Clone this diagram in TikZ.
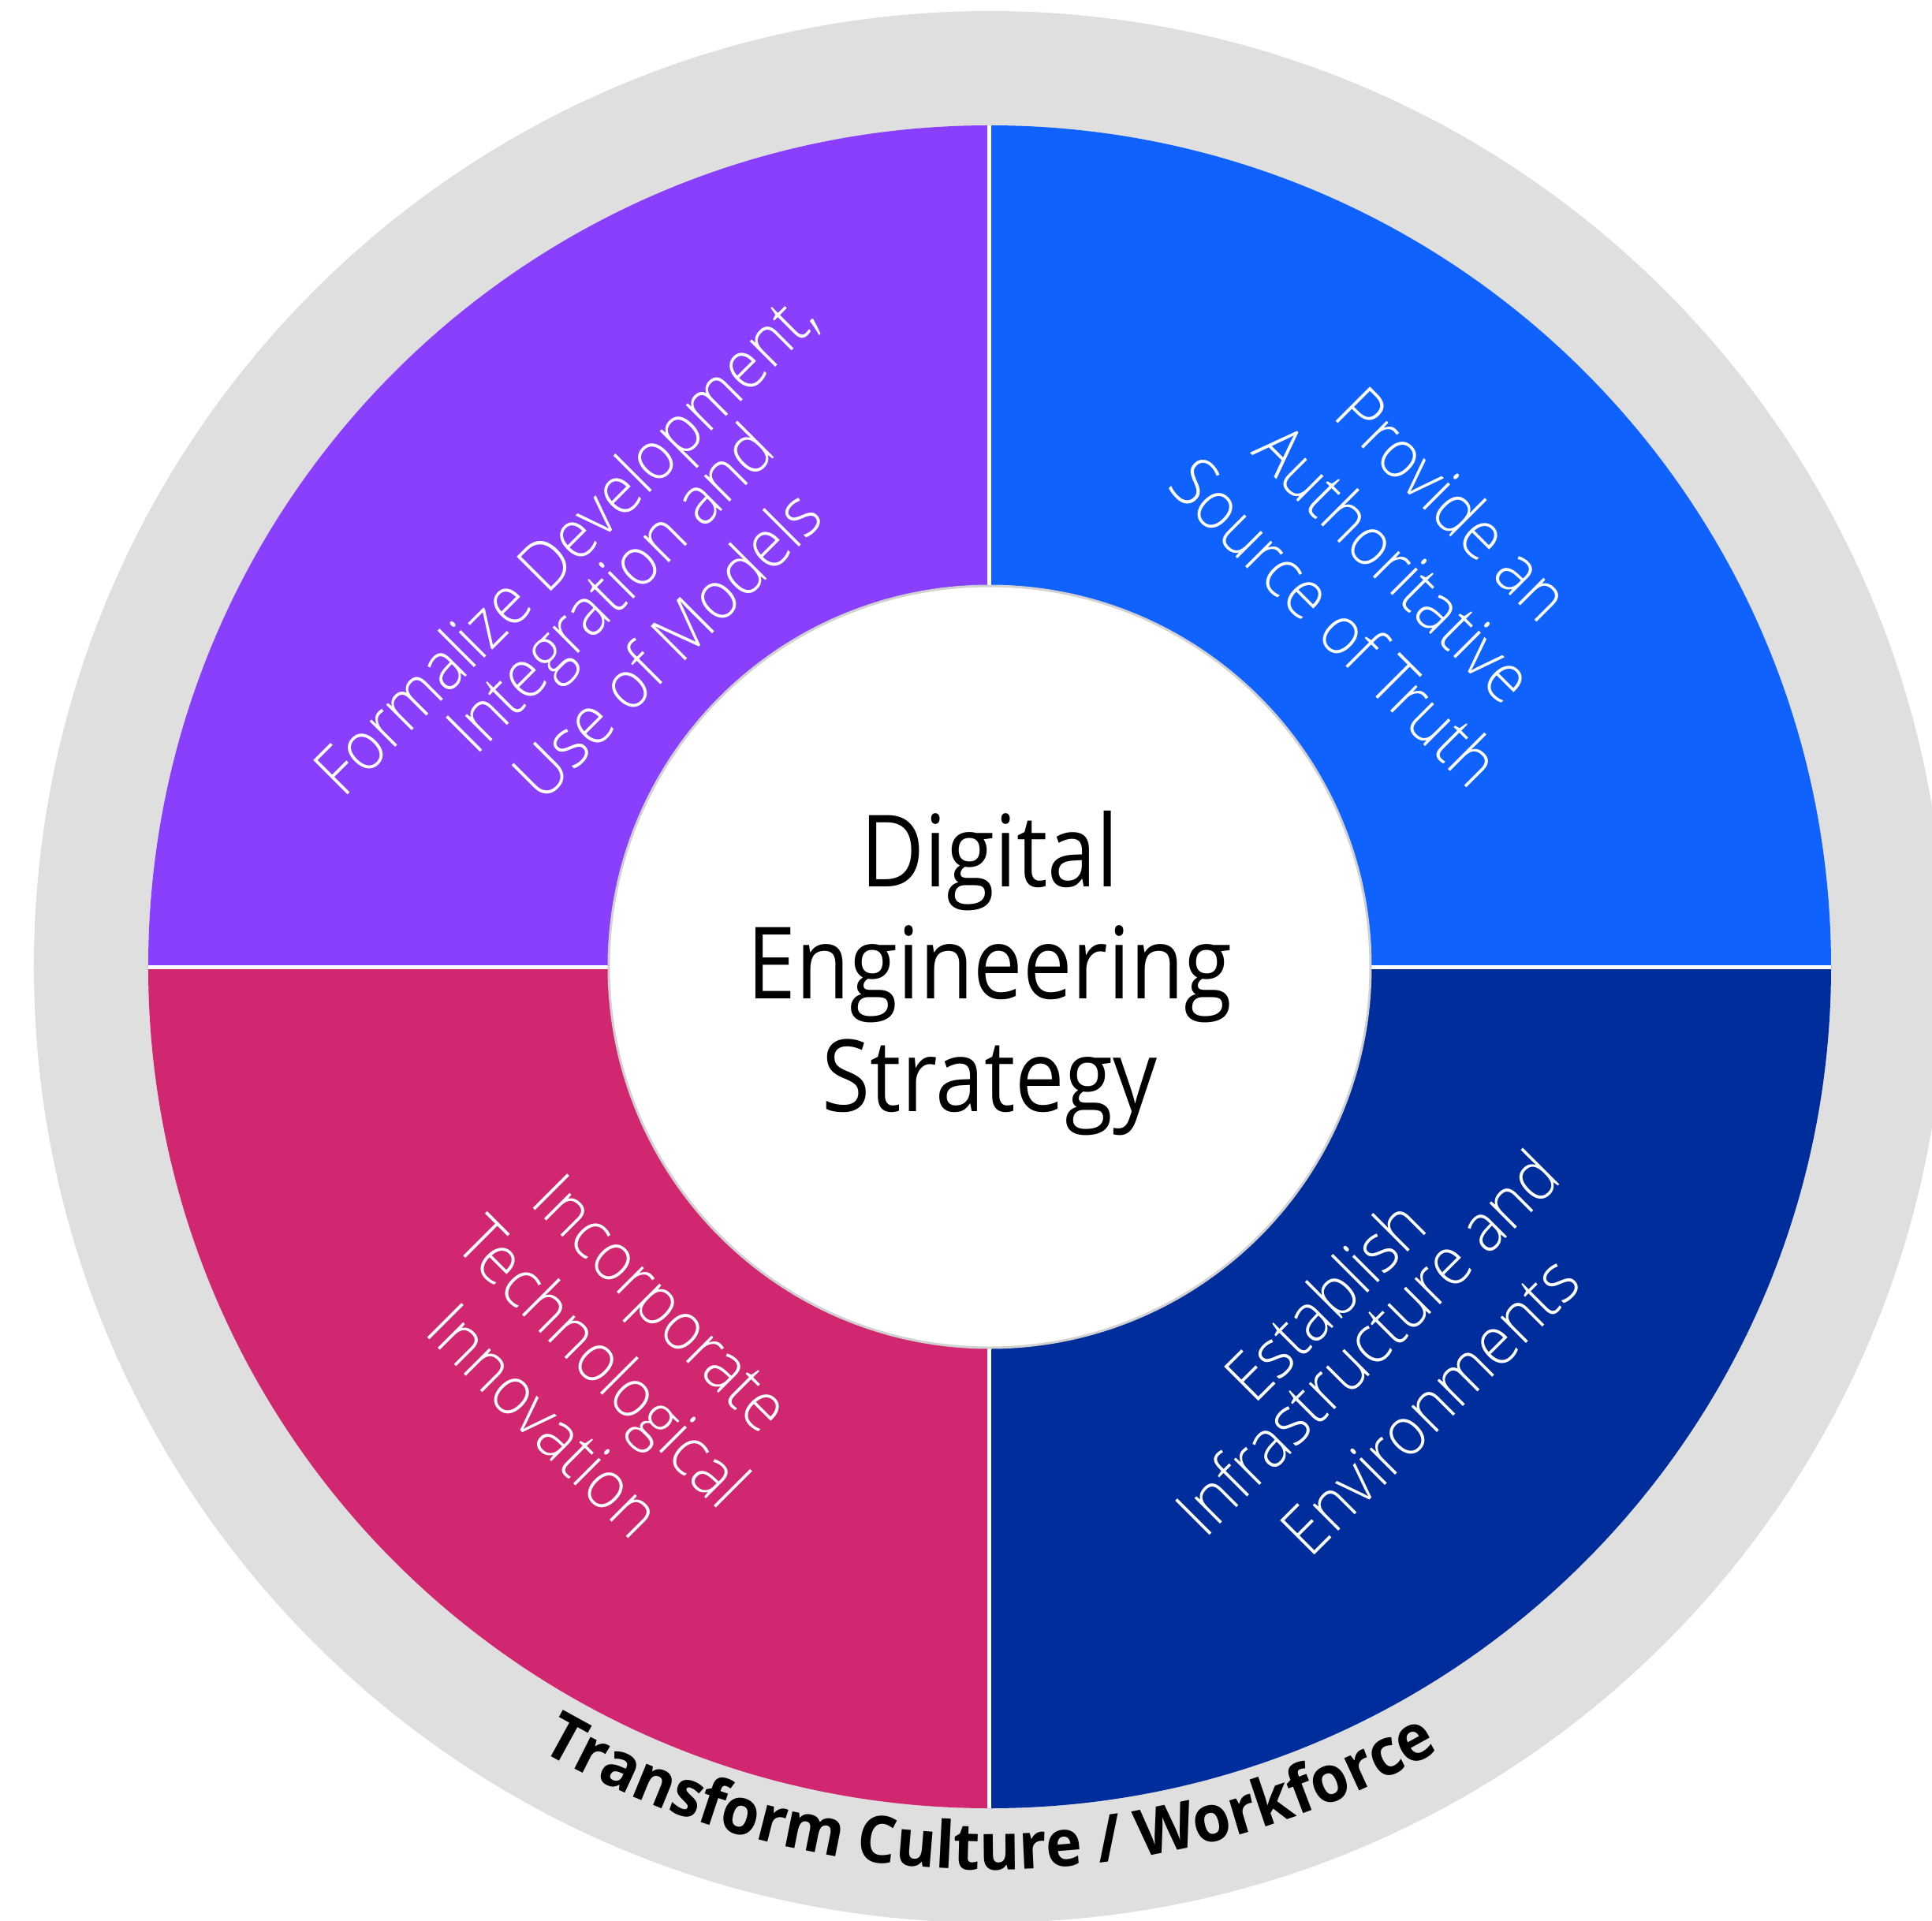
\documentclass[tikz,border=0pt]{standalone}
\usepackage{fontspec}
\setmainfont{Open Sans}
\IfFontExistsTF{Open Sans Light}{\newfontfamily\qfont{Open Sans Light}[FakeStretch=0.92]}{\newfontfamily\qfont{Open Sans}[FakeStretch=0.92]}
\newfontfamily\cfont{Open Sans}[FakeStretch=0.88]
\newfontfamily\rfont{Open Sans}[FakeStretch=0.94]
\usetikzlibrary{decorations.text}
\definecolor{ringgray}{HTML}{DFDFDF}
\definecolor{qpurple}{HTML}{8A3FFC}
\definecolor{qblue}{HTML}{0F62FE}
\definecolor{qnavy}{HTML}{002D9C}
\definecolor{qmagenta}{HTML}{D12771}
\tikzset{
  qtext/.style={text=white, align=center, inner sep=0pt,
    font=\qfont\fontsize{24.5}{30}\selectfont},
  gapline/.style={white, line width=0.05cm},
}
\begin{document}
\begin{tikzpicture}
\useasboundingbox (-12.55,-12.09) rectangle (11.95,12.26);
% outer ring
\fill[ringgray] (0,0) circle (12.12);
% quadrants
\fill[qpurple] (0,0) -- (90:10.67) arc[start angle=90, end angle=180, radius=10.67] -- cycle;
\fill[qblue] (0,0) -- (0:10.67) arc[start angle=0, end angle=90, radius=10.67] -- cycle;
\fill[qmagenta] (0,0) -- (180:10.67) arc[start angle=180, end angle=270, radius=10.67] -- cycle;
\fill[qnavy] (0,0) -- (270:10.67) arc[start angle=270, end angle=360, radius=10.67] -- cycle;
% separators
\coordinate (top) at (90:10.67);
\coordinate (bottom) at (270:10.67);
\coordinate (left) at (180:10.67);
\coordinate (right) at (0:10.67);
\draw[gapline] (top) -- (bottom);
\draw[gapline] (left) -- (right);
% centre
\node[circle, fill=white, draw=black!18, line width=0.03cm, minimum size=9.66cm, inner sep=0pt] (core) at (0,0) {};
\node[align=center, font=\cfont\fontsize{36}{40.5}\selectfont, inner sep=0pt] (coretext) at (0,-0.08)
  {Digital\\Engineering\\Strategy};
% quadrant texts
\node[qtext, rotate=45, font=\qfont\fontsize{24.5}{29}\selectfont] (formalize) at (-4.75,4.74)
  {Formalize Development,\\[-6.2pt]Integration and\\Use of Models};
\node[qtext, rotate=-45] (provide) at (5.14,5.13) {Provide an\\Authoritative\\Source of Truth};
\node[qtext, rotate=-45] (incorporate) at (-4.90,-5.01) {Incorporate\\Technological\\Innovation};
\node[qtext, rotate=45, font=\qfont\fontsize{24.5}{32}\selectfont] (establish) at (4.91,-4.89)
  {Establish\\[-10.5pt]Infrastructure and\\Environments};
% curved label
\path[decorate, decoration={text along path, text align=center,
  text={|\rfont\bfseries\fontsize{23.5}{28}\selectfont|Transform Culture / Workforce}}]
  (180:11.45) arc[start angle=180, end angle=360, radius=11.45];
\end{tikzpicture}
\end{document}
